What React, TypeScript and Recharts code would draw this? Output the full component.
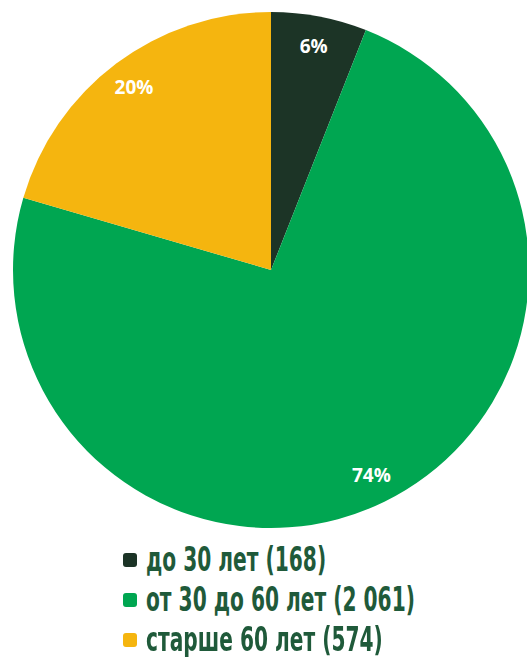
import { PieChart, Pie, Cell } from 'recharts'

const categories = ['до 30 лет', 'от 30 до 60 лет', 'старше 60 лет']
const counts = [168, 2061, 574]
const countLabels = ['168', '2 061', '574']
const colors = ['#1c3426', '#00a651', '#f5b50f']

const RAD = Math.PI / 180

function renderLabel({ cx, cy, midAngle, outerRadius, percent }: any) {
  const r = outerRadius * 0.885
  const x = cx + r * Math.cos(-midAngle * RAD)
  const y = cy + r * Math.sin(-midAngle * RAD)
  return (
    <text x={x} y={y} fill="#fff" textAnchor="middle" dominantBaseline="central"
      fontFamily="'Open Sans', sans-serif" fontWeight={700} fontSize={19}>
      {`${Math.round(percent * 100)}%`}
    </text>
  )
}

export default function App() {
  const data = categories.map((name, i) => ({ name, value: counts[i] }))

  return (
    <div style={{ position: 'fixed', left: 0, top: 0, width: 527, height: 657, background: '#fff' }}>
      <PieChart width={527} height={540} margin={{ top: 0, right: 0, bottom: 0, left: 0 }}>
        <Pie data={data} dataKey="value" cx={271} cy={270} outerRadius={258}
          startAngle={90} endAngle={-270} stroke="none" label={renderLabel} labelLine={false}
          isAnimationActive={false}>
          {data.map((d, i) => <Cell key={d.name} fill={colors[i]} />)}
        </Pie>
      </PieChart>
      <div style={{ position: 'absolute', left: 123, top: 540 }}>
        {categories.map((c, i) => (
          <div key={c} style={{ display: 'flex', alignItems: 'center', height: 40, whiteSpace: 'nowrap' }}>
            <span style={{ width: 14, height: 14, borderRadius: 3, background: colors[i], marginRight: 9, flexShrink: 0 }} />
            <span style={{ display: 'inline-block', transform: 'scaleX(0.68)', transformOrigin: 'left center',
              fontFamily: "'DejaVu Sans Condensed', 'DejaVu Sans', sans-serif",
              fontWeight: 700, fontSize: 33, color: '#1f5a3a', lineHeight: '30px' }}>
              {`${c} (${countLabels[i]})`}
            </span>
          </div>
        ))}
      </div>
    </div>
  )
}
